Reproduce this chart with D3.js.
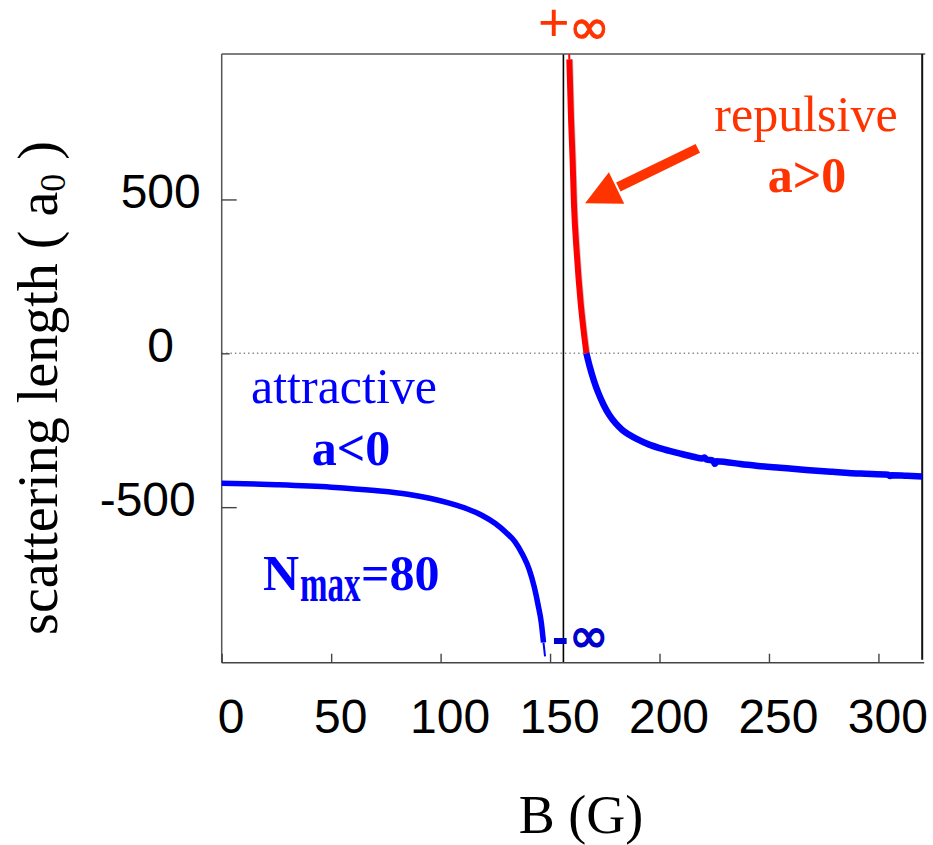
<!DOCTYPE html>
<html><head><meta charset="utf-8">
<script src="https://cdn.jsdelivr.net/npm/d3@7"></script>
<style>body{margin:0;background:#fff} svg{display:block}</style>
</head><body>
<svg id="c" width="933" height="845"></svg>
<script>
// ---- data (B in gauss, a in units of a0) ----
const xTickValues = [0, 50, 100, 150, 200, 250, 300];
const yTickValues = [-500, 0, 500];
const resonanceB = 156.1;

// attractive branch below resonance (a -> -inf)
const leftBranch = [[0,-422],[25,-427],[50,-435],[70,-446],[85,-458],[95,-471],[104,-487],[112,-505],[119,-527],[125,-553],[130,-583],[134,-613],[137.5,-655],[140.5,-703],[142.8,-760],[144.6,-820],[146,-875],[147,-940]];
const leftTail = [[147,-940],[147.7,-985]];

// repulsive branch above resonance (a > 0)
const redTail = [[158.75,972],[158.8,955]];
const redBranch = [[158.8,955],[159.6,758],[160.3,628],[160.9,488],[162.2,325],[164.0,162],[165.3,75],[166.6,0]];

// attractive branch above zero crossing
const rightBranch = [[166.6,0],[168,-40],[170,-88],[172,-128],[174.5,-168],[177,-200],[180,-228],[183,-249],[186,-264],[190,-280],[195,-296],[200,-308],[205,-318],[210,-327],[216,-337],[219.5,-342],[220.5,-339],[221.5,-345],[224.5,-349],[225.3,-359],[226,-351],[230,-353],[237,-360],[245,-366],[255,-372],[267,-379],[279,-385],[292,-391],[304.5,-395],[305.3,-399],[306,-396],[313,-398],[320,-400]];

// ---- layout ----
const svg = d3.select("#c");
const L = 221.7, R = 922.2, T = 54, B = 662.7;
const x = d3.scaleLinear().domain([0, 320]).range([L, R]);
const y = d3.scaleLinear().domain([-1005.5, 972.7]).range([B, T]);
const line = d3.line().x(d => x(d[0])).y(d => y(d[1])).curve(d3.curveMonotoneX);

const RED = "#ff0000", ORANGE = "#ff3300", BLUE = "#0000ff";
const serif = "Liberation Serif, Times New Roman, serif";
const sans = "Liberation Sans, Arial, sans-serif";
const dv = "DejaVu Sans, sans-serif";

// zero dotted line
svg.append("line").attr("x1", L).attr("x2", R).attr("y1", y(0)).attr("y2", y(0))
  .attr("stroke", "#888").attr("stroke-width", 1.4).attr("stroke-dasharray", "1.4,3");

// resonance vertical line
svg.append("line").attr("x1", x(resonanceB)).attr("x2", x(resonanceB)).attr("y1", T).attr("y2", B)
  .attr("stroke", "#000").attr("stroke-width", 1.6);

// frame
svg.append("line").attr("x1", L).attr("x2", R + 3).attr("y1", T).attr("y2", T).attr("stroke", "#555").attr("stroke-width", 1.5);
svg.append("line").attr("x1", L).attr("x2", L).attr("y1", T).attr("y2", B).attr("stroke", "#555").attr("stroke-width", 1.5);
svg.append("line").attr("x1", L).attr("x2", R + 2).attr("y1", B).attr("y2", B).attr("stroke", "#444").attr("stroke-width", 1.5);
svg.append("line").attr("x1", R).attr("x2", R).attr("y1", T).attr("y2", B - 3).attr("stroke", "#111").attr("stroke-width", 2);

// axes ticks
const fmt = d => String(d);
const yAxis = d3.axisLeft(y).tickValues(yTickValues).tickSizeInner(-15).tickSizeOuter(0).tickFormat(fmt);
const gy = svg.append("g").attr("transform", `translate(${L},0)`).call(yAxis);
gy.select(".domain").remove();
gy.selectAll(".tick line").attr("stroke", "#444").attr("stroke-width", 1.4)
  .attr("x2", d => d === 0 ? 8 : 15);
gy.selectAll(".tick text").attr("text-anchor", "middle").attr("x", d => d < 0 ? -74 : -61).attr("dy", null).attr("y", 8)
  .attr("font-family", sans).attr("font-size", 48).attr("fill", "#000");

const xAxis = d3.axisBottom(x).tickValues(xTickValues).tickSizeInner(-9).tickSizeOuter(0).tickFormat(fmt);
const gx = svg.append("g").attr("transform", `translate(0,${B})`).call(xAxis);
gx.select(".domain").remove();
gx.selectAll(".tick line").attr("stroke", "#444").attr("stroke-width", 1.4);
gx.selectAll(".tick text").attr("x", 9).attr("dy", null).attr("y", 70)
  .attr("font-family", sans).attr("font-size", 48).attr("fill", "#000");

// curves
svg.append("path").attr("d", line(leftBranch)).attr("fill", "none").attr("stroke", BLUE).attr("stroke-width", 5.5);
svg.append("path").attr("d", line(leftTail)).attr("fill", "none").attr("stroke", BLUE).attr("stroke-width", 2);
svg.append("path").attr("d", line(redBranch)).attr("fill", "none").attr("stroke", "#c8c8c8").attr("stroke-width", 2.5).attr("transform", "translate(2.6,0)");
svg.append("path").attr("d", line(redTail)).attr("fill", "none").attr("stroke", RED).attr("stroke-width", 2);
svg.append("path").attr("d", line(redBranch)).attr("fill", "none").attr("stroke", RED).attr("stroke-width", 6);
svg.append("path").attr("d", line(rightBranch)).attr("fill", "none").attr("stroke", BLUE).attr("stroke-width", 6.5).attr("stroke-linejoin", "round");

// arrow annotation (in data coords)
const arrowTail = [217.5, 666], arrowTip = [166, 487.5];
const tx = x(arrowTail[0]), ty = y(arrowTail[1]), px = x(arrowTip[0]), py = y(arrowTip[1]);
const ang = Math.atan2(ty - py, tx - px);
const headLen = 35, headHalf = 17.5;
const bx = px + headLen * Math.cos(ang), by = py + headLen * Math.sin(ang);
svg.append("line").attr("x1", tx).attr("y1", ty).attr("x2", bx + 2 * Math.cos(ang)).attr("y2", by + 2 * Math.sin(ang))
  .attr("stroke", ORANGE).attr("stroke-width", 10);
svg.append("path").attr("fill", ORANGE).attr("d",
  `M${px},${py} L${bx + headHalf * Math.sin(ang)},${by - headHalf * Math.cos(ang)} L${bx - headHalf * Math.sin(ang)},${by + headHalf * Math.cos(ang)} Z`);

// infinity labels
const pinf = svg.append("text").attr("x", 538).attr("y", 41).attr("fill", ORANGE);
pinf.append("tspan").attr("font-family", sans).attr("font-size", 54).text("+");
pinf.append("tspan").attr("font-family", dv).attr("font-size", 50).attr("dx", -1).attr("dy", 3)
  .attr("stroke", ORANGE).attr("stroke-width", 1).text("∞");

const ninf = svg.append("text").attr("x", 552).attr("y", 654).attr("fill", "#0000cc");
ninf.append("tspan").attr("font-family", sans).attr("font-weight", "bold").attr("font-size", 50).text("-");
ninf.append("tspan").attr("font-family", dv).attr("font-size", 48).attr("dx", 0).attr("dy", -2)
  .attr("stroke", "#0000cc").attr("stroke-width", 1.5).text("∞");

// region labels
svg.append("text").attr("x", 806).attr("y", 131).attr("text-anchor", "middle").attr("font-family", serif)
  .attr("font-size", 50).attr("fill", ORANGE).text("repulsive");
svg.append("text").attr("x", 807).attr("y", 192).attr("text-anchor", "middle").attr("font-family", serif)
  .attr("font-size", 50).attr("font-weight", "bold").attr("fill", ORANGE).text("a>0");

svg.append("text").attr("x", 344).attr("y", 403).attr("text-anchor", "middle").attr("font-family", serif)
  .attr("font-size", 50).attr("fill", BLUE).text("attractive");
svg.append("text").attr("x", 351).attr("y", 465).attr("text-anchor", "middle").attr("font-family", serif)
  .attr("font-size", 50).attr("font-weight", "bold").attr("fill", BLUE).text("a<0");

// N_max = 80 label (subscript drawn narrow and tall as in the reference)
svg.append("text").attr("x", 263).attr("y", 590).attr("font-family", serif).attr("font-weight", "bold")
  .attr("font-size", 50).attr("fill", BLUE).text("N");
svg.append("text").attr("transform", "translate(300,601) scale(1,1.6)").attr("font-family", serif).attr("font-weight", "bold")
  .attr("font-size", 33).attr("fill", BLUE).text("max");
svg.append("text").attr("x", 361).attr("y", 590).attr("font-family", serif).attr("font-weight", "bold")
  .attr("font-size", 50).attr("fill", BLUE).text("=80");

// axis titles
svg.append("text").attr("x", 581).attr("y", 833).attr("text-anchor", "middle").attr("font-family", serif)
  .attr("font-size", 54).attr("fill", "#000").text("B (G)");

const yt = svg.append("text").attr("transform", "translate(57,388) rotate(-90)").attr("text-anchor", "middle")
  .attr("font-family", serif).attr("font-size", 56).attr("fill", "#000");
yt.append("tspan").text("scattering length ( a");
yt.append("tspan").attr("font-size", 36).attr("dy", 8).text("0");
yt.append("tspan").attr("dy", -8).text(" )");
</script>
</body></html>
